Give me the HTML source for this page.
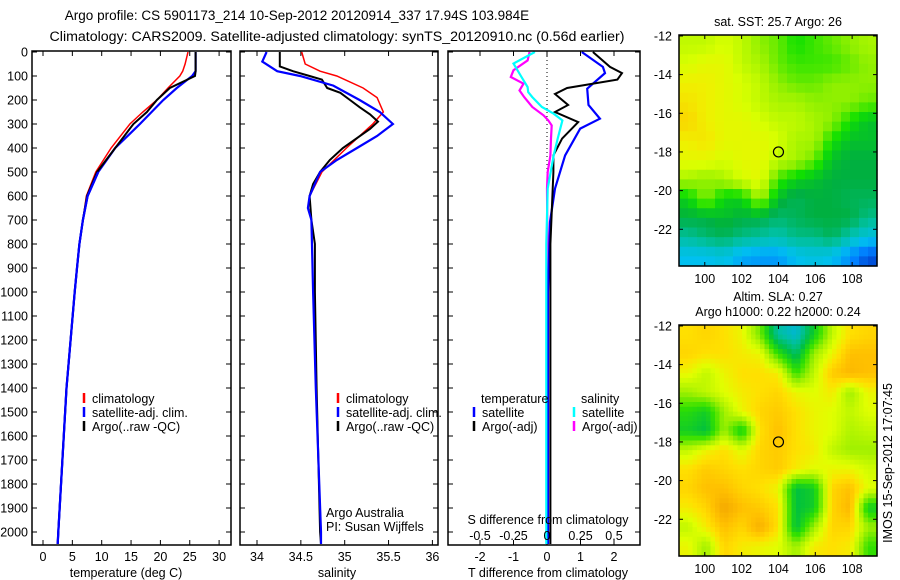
<!DOCTYPE html>
<html><head><meta charset="utf-8"><style>
html,body{margin:0;padding:0;background:#fff;}
svg{display:block;font-family:"Liberation Sans",sans-serif;}
text{font-size:12.5px;fill:#000;}
</style></head><body>
<svg id="fig" width="900" height="580" viewBox="0 0 900 580" xmlns="http://www.w3.org/2000/svg">
<text x="297" y="20" text-anchor="middle" style="font-size:13.5px">Argo profile: CS 5901173_214 10-Sep-2012 20120914_337 17.94S 103.984E</text>
<text x="337" y="41" text-anchor="middle" style="font-size:14.2px">Climatology: CARS2009. Satellite-adjusted climatology: synTS_20120910.nc (0.56d earlier)</text>
<g id="layer"></g>
</svg>
<script>
// ---------- data ----------
var tempDepth = [0,50,80,100,150,200,250,300,400,500,600,700,800,900,1000,1400,2000,2050];
var tempArgo  = [26,26,26,25.9,21.6,19.4,17.7,15.4,12.3,9.2,7.5,6.8,6.2,5.8,5.4,4.0,2.6,2.5];
var tempClim  = [24.7,24.2,23.8,23.3,21.3,19.4,17.0,14.8,11.6,9.0,7.4,6.8,6.2,5.8,5.4,4.0,2.6,2.5];
var tempSat   = [26,26,26,25.4,22.8,20.5,18.5,16.5,12.3,9.4,7.6,6.8,6.2,5.8,5.4,4.0,2.6,2.5];

var salArgoDepth = [0,20,60,80,100,115,150,170,200,230,260,290,320,400,450,500,550,600,700,800,1000,1400,2000,2050];
var salArgo      = [34.26,34.26,34.26,34.41,34.6,34.74,34.8,34.95,35.06,35.17,35.29,35.38,35.29,34.98,34.83,34.72,34.64,34.6,34.62,34.66,34.66,34.68,34.72,34.73];
var salClimDepth = [0,50,80,100,150,190,250,300,400,500,600,650,700,1000,1400,2000,2050];
var salClim      = [34.51,34.55,34.72,34.91,35.21,35.37,35.44,35.32,35.02,34.74,34.6,34.58,34.62,34.64,34.67,34.73,34.73];
var salSatDepth  = [0,40,80,100,140,200,250,300,350,400,450,500,600,650,700,1000,1400,2000,2050];
var salSat       = [34.11,34.06,34.23,34.49,34.87,35.17,35.4,35.55,35.37,35.14,34.91,34.72,34.6,34.58,34.62,34.64,34.67,34.73,34.73];

var dTArgoDepth = [0,62,88,115,150,175,221,250,292,361,431,500,640,800,1200,2050];
var dTArgo      = [1.37,1.88,2.24,2.1,0.6,0.24,0.63,0.24,0.93,0.45,0.19,0.19,0.15,0.1,0.1,0.1];
var dTSatDepth  = [0,62,88,153,221,278,319,431,569,708,1000,2050];
var dTSat       = [1.04,1.67,1.73,1.2,1.24,1.58,0.99,0.54,0.24,0.09,0.03,0.03];
var dSSatDepth  = [0,48,104,146,167,188,229,257,285,361,431,569,800,2050];
var dSSat       = [-0.09,-0.25,-0.19,-0.145,-0.14,-0.11,-0.038,0.05,0.115,0.08,0.05,0.005,-0.005,-0.005];
var dSArgoDepth = [0,35,76,104,132,160,188,229,264,285,306,361,431,500,569,800,2050];
var dSArgo      = [-0.13,-0.145,-0.25,-0.27,-0.175,-0.205,-0.17,-0.11,-0.025,0.01,0.035,0.03,0.025,0.005,0.0,0.003,0.003];

var depthTicks = [0,100,200,300,400,500,600,700,800,900,1000,1100,1200,1300,1400,1500,1600,1700,1800,1900,2000];
var tempTicks = [0,5,10,15,20,25,30];
var salTicks = [34,34.5,35,35.5,36];
var tDiffTicks = [-2,-1,0,1,2];
var sDiffTicks = [-0.5,-0.25,0,0.25,0.5];
var sDiffLabels = ["-0.5","-0.25","0","0.25","0.5"];
var lonTicks = [100,102,104,106,108];
var latTicks = [-12,-14,-16,-18,-20,-22];

var sstGrid = [
[25.7,25.7,25.8,25.7,25.5,25.4,25.2,25.3,25.4,25.5,25.6],
[25.8,25.9,25.9,25.7,25.6,25.4,25.3,25.3,25.3,25.4,25.5],
[26.0,26.0,25.9,25.8,25.7,25.5,25.4,25.4,25.5,25.5,25.5],
[26.1,26.0,25.9,25.8,25.7,25.6,25.6,25.5,25.5,25.5,25.4],
[26.2,26.0,25.9,25.9,25.8,25.7,25.7,25.6,25.5,25.2,25.0],
[26.0,26.1,25.9,25.9,25.9,25.8,25.6,25.6,25.2,25.0,25.0],
[25.9,25.9,25.8,25.9,25.9,25.7,25.6,25.4,25.0,24.9,24.9],
[25.6,25.5,25.6,25.8,25.9,25.3,25.1,25.0,24.9,24.9,24.9],
[25.1,25.5,25.1,25.1,25.6,25.0,24.8,24.9,24.9,24.8,24.8],
[24.9,24.9,25.0,24.9,24.9,24.7,24.8,24.9,24.9,24.9,24.6],
[24.5,24.7,24.8,24.6,24.5,24.4,24.6,24.6,24.8,24.4,24.1],
[24.0,24.0,24.1,23.8,23.7,23.7,24.0,24.1,24.0,23.6,23.2]];
var slaGrid = [
[.27,.28,.27,.25,.18,.05,.02,.12,.22,.27,.28],
[.28,.27,.27,.26,.25,.15,.08,.20,.25,.30,.30],
[.25,.22,.25,.27,.27,.26,.15,.22,.29,.31,.30],
[.20,.22,.24,.26,.27,.28,.25,.24,.26,.20,.25],
[.14,.12,.20,.25,.28,.29,.27,.25,.24,.22,.24],
[.12,.10,.20,.12,.27,.30,.27,.25,.24,.21,.22],
[.22,.25,.27,.24,.28,.29,.27,.26,.22,.20,.20],
[.27,.29,.28,.27,.28,.29,.26,.24,.25,.25,.23],
[.28,.30,.30,.28,.27,.25,.10,.12,.28,.30,.24],
[.26,.28,.33,.30,.29,.27,.10,.12,.28,.31,.12],
[.22,.26,.30,.28,.32,.27,.10,.20,.28,.28,.20],
[.25,.20,.28,.26,.25,.24,.20,.26,.27,.26,.15]];
var argoLon = [104];
var argoLat = [-18];

// ---------- helpers ----------
var NS = "http://www.w3.org/2000/svg";
var layer = document.getElementById('layer');
function mk(tag, attrs, parent){ var e=document.createElementNS(NS,tag); for(var k in attrs) e.setAttribute(k,attrs[k]); (parent||layer).appendChild(e); return e; }
function txt(x,y,s,anchor,parent){ var t=mk('text',{x:x,y:y,'text-anchor':anchor||'start'},parent); t.textContent=s; return t; }
var yD = function(d){ return 52 + d*0.24; };
var BOT=545;

function frame(name,x0,x1,y0,y1){
  var r=mk('rect',{x:x0,y:y0,width:x1-x0,height:y1-y0,fill:'none',stroke:'#000','stroke-width':1.5});
  
  
}
function line(name,xs,ds,xf,color,w){
  var pts=xs.map(function(v,i){return xf(v).toFixed(1)+','+yD(ds[i]).toFixed(1);}).join(' ');
  var p=mk('polyline',{points:pts,fill:'none',stroke:color,'stroke-width':w,'stroke-linejoin':'miter'});
  
  
}
function xTicks(vals,labels,xf,yLab){
  vals.forEach(function(v,i){ var x=xf(v);
    mk('line',{x1:x,x2:x,y1:BOT,y2:BOT-5,stroke:'#000'});
    mk('line',{x1:x,x2:x,y1:51,y2:56,stroke:'#000'});
    if(yLab){ var t=txt(x,yLab,labels[i],'middle');
      
       }
  });
}
function yTicks(x0,x1){
  depthTicks.forEach(function(d){ var y=yD(d);
    mk('line',{x1:x0,x2:x0+5,y1:y,y2:y,stroke:'#000'});
    mk('line',{x1:x1,x2:x1-5,y1:y,y2:y,stroke:'#000'});
  });
}
function legendEntry(x,y,color,label){
  var b=mk('line',{x1:x,x2:x,y1:y-10,y2:y,stroke:color,'stroke-width':2.5});
  
  
  var t=txt(x+8,y,label);
  
  
}

// ---------- panel 1: temperature ----------
var xT = function(v){ return 43 + v*5.87; };
depthTicks.forEach(function(d){ var t=txt(28,yD(d)+4.5,String(d),'end');
  
   });
yTicks(32,231);
xTicks(tempTicks,tempTicks.map(String),xT,561);
line('temp-climatology',tempClim,tempDepth,xT,'#f00',1.5);
line('temp-satellite-adj',tempSat,tempDepth,xT,'#00f',2.2);
line('temp-argo',tempArgo,tempDepth,xT,'#000',2);
line('temp-satellite-adj-deep',tempSat.slice(9),tempDepth.slice(9),xT,'#00f',2.2);
frame('temperature-panel',32,231,51,BOT);
var l=txt(126,577,'temperature (deg C)','middle');  
legendEntry(84,403,'#f00','climatology');
legendEntry(84,417,'#00f','satellite-adj. clim.');
legendEntry(84,431,'#000','Argo(..raw -QC)');

// ---------- panel 2: salinity ----------
var xS = function(v){ return 257 + (v-34)*87.7; };
yTicks(240,438);
xTicks(salTicks,salTicks.map(String),xS,561);
line('sal-climatology',salClim,salClimDepth,xS,'#f00',1.5);
line('sal-argo',salArgo,salArgoDepth,xS,'#000',2);
line('sal-satellite-adj',salSat,salSatDepth,xS,'#00f',2.2);
frame('salinity-panel',240,438,51,BOT);
l=txt(337,577,'salinity','middle');  
legendEntry(338,403,'#f00','climatology');
legendEntry(338,417,'#00f','satellite-adj. clim.');
legendEntry(338,431,'#000','Argo(..raw -QC)');
l=txt(326,517,'Argo Australia');  
l=txt(326,531,'PI: Susan Wijffels');  

// ---------- panel 3: differences ----------
var xDT = function(v){ return 547 + v*33.5; };
var xDS = function(v){ return 547 + v*134; };
yTicks(448,640);
xTicks(tDiffTicks,tDiffTicks.map(String),xDT,561);
var zl=mk('line',{x1:xDT(0),x2:xDT(0),y1:52,y2:BOT,stroke:'#000','stroke-dasharray':'1,3'});
 
line('s-diff-argo',dSArgo,dSArgoDepth,xDS,'#f0f',2.2);
line('t-diff-satellite',dTSat,dTSatDepth,xDT,'#00f',2.2);
line('t-diff-argo',dTArgo,dTArgoDepth,xDT,'#000',2);
line('s-diff-satellite',dSSat,dSSatDepth,xDS,'#0ff',2.2);
frame('difference-panel',448,640,51,BOT);
sDiffTicks.forEach(function(v,i){ var t=txt(xDS(v),540,sDiffLabels[i],'middle');
    });
l=txt(548,524,'S difference from climatology','middle');  
l=txt(548,577,'T difference from climatology','middle');  
l=txt(481,403,'temperature');  
l=txt(581,403,'salinity');  
legendEntry(474,417,'#00f','satellite');
legendEntry(474,431,'#000','Argo(-adj)');
legendEntry(574,417,'#0ff','satellite');
legendEntry(574,431,'#f0f','Argo(-adj)');

// ---------- maps ----------
function interpColor(stops,v){
  if(v<=stops[0][0]) return stops[0][1];
  for(var i=1;i<stops.length;i++){ if(v<=stops[i][0]){
    var a=stops[i-1],b=stops[i],f=(v-a[0])/(b[0]-a[0]);
    return [0,1,2].map(function(k){return Math.round(a[1][k]+(b[1][k]-a[1][k])*f);}); } }
  return stops[stops.length-1][1];
}
var sstStops=[[23.0,[0,48,192]],[23.5,[0,128,255]],[24.0,[0,192,240]],[24.5,[0,192,160]],[24.9,[0,176,64]],[25.2,[16,224,0]],[25.5,[144,240,0]],[25.8,[216,255,0]],[26.0,[240,240,0]],[26.3,[255,200,0]]];
var slaStops=[[0.0,[0,176,240]],[0.05,[0,192,160]],[0.1,[0,192,64]],[0.15,[48,224,0]],[0.2,[160,240,0]],[0.24,[224,255,0]],[0.27,[255,224,0]],[0.3,[255,192,0]],[0.34,[240,160,0]]];

function drawMap(name,grid,stops,y0,y1,sub,titleLines){
  var x0=679,x1=877;
  var lonL=98.6,lonR=109.35,latT=-11.95,latB=-23.9;
  var xL=function(lo){return x0+(lo-lonL)/(lonR-lonL)*(x1-x0);};
  var yL=function(la){return y0+(latT-la)/(latT-latB)*(y1-y0);};
  var g=mk('g',{});
  
  
  var rows=grid.length, cols=grid[0].length, nR=rows*sub, nC=cols*sub;
  var cw=(x1-x0)/nC, ch=(y1-y0)/nR;
  for(var r=0;r<nR;r++){ for(var c=0;c<nC;c++){
    var fr=Math.min(Math.max((r+0.5)/sub-0.5,0),rows-1), fc=Math.min(Math.max((c+0.5)/sub-0.5,0),cols-1);
    var r0=Math.floor(fr), c0=Math.floor(fc), r1=Math.min(r0+1,rows-1), c1=Math.min(c0+1,cols-1);
    var a=fr-r0,b=fc-c0;
    var v=grid[r0][c0]*(1-a)*(1-b)+grid[r0][c1]*(1-a)*b+grid[r1][c0]*a*(1-b)+grid[r1][c1]*a*b;
    var col=interpColor(stops,v);
    var cell=mk('rect',{x:(x0+c*cw).toFixed(2),y:(y0+r*ch).toFixed(2),width:(cw+0.6).toFixed(2),height:(ch+0.6).toFixed(2),fill:'rgb('+col.join(',')+')'},g);
    
    
  }}
  mk('rect',{x:x0,y:y0,width:x1-x0,height:y1-y0,fill:'none',stroke:'#000','stroke-width':1.5},g);
  lonTicks.forEach(function(lo){ var x=xL(lo);
    mk('line',{x1:x,x2:x,y1:y1,y2:y1-4,stroke:'#000'},g);
    mk('line',{x1:x,x2:x,y1:y0,y2:y0+4,stroke:'#000'},g);
    var t=txt(x,y1+17,String(lo),'middle',g);   });
  latTicks.forEach(function(la){ var y=yL(la);
    mk('line',{x1:x0,x2:x0+4,y1:y,y2:y,stroke:'#000'},g);
    mk('line',{x1:x1,x2:x1-4,y1:y,y2:y,stroke:'#000'},g);
    var t=txt(672,y+4.5,String(la),'end',g);   });
  argoLon.forEach(function(lo,i){
    var c=mk('circle',{cx:xL(lo),cy:yL(argoLat[i]),r:5,fill:'none',stroke:'#000','stroke-width':1.2},g);
      });
  titleLines.forEach(function(s,i){ var t=txt(778,y0-9-(titleLines.length-1-i)*15,s,'middle',g);
      });
}
drawMap('sst-map',sstGrid,sstStops,35,266,2,['sat. SST: 25.7 Argo: 26']);
drawMap('sla-map',slaGrid,slaStops,325,556,4,['Altim. SLA: 0.27','Argo h1000: 0.22 h2000: 0.24']);

var stamp=txt(0,0,'IMOS 15-Sep-2012 17:07:45','middle');
stamp.setAttribute('transform','translate(892,463) rotate(-90)');


</script>
</body></html>
